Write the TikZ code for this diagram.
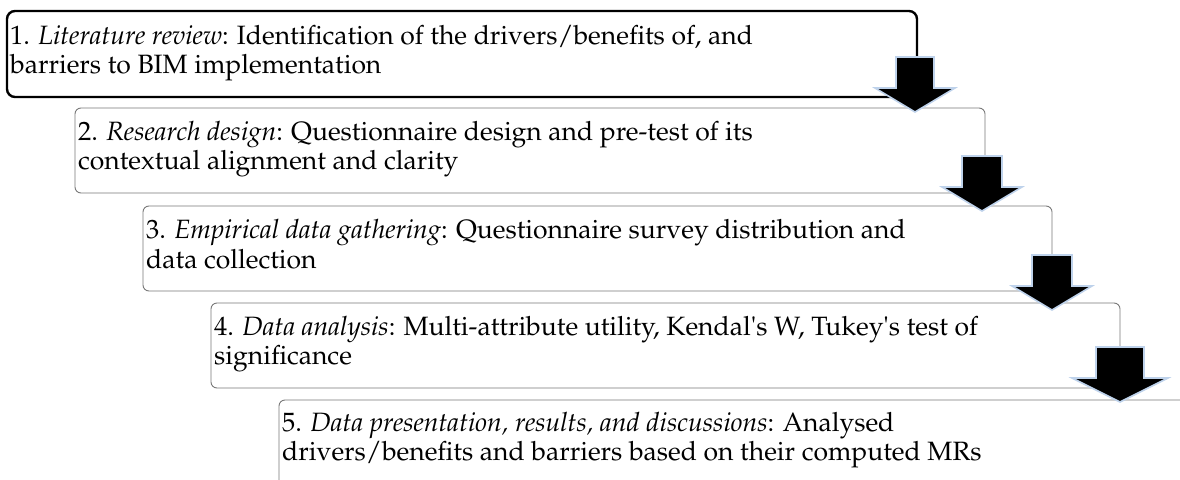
\documentclass[tikz,border=0pt]{standalone}
\usepackage[T1]{fontenc}
\usepackage{mathpazo}
\definecolor{boxgray}{RGB}{120,120,120}
\definecolor{arrowblue}{RGB}{190,210,235}
\tikzset{
  firstbox/.style={draw=black, line width=2.4pt, rounded corners=8pt},
  stepbox/.style={draw=boxgray, line width=0.9pt, rounded corners=6pt},
  steptext/.style={anchor=base west, inner sep=0pt, font=\fontsize{26.5}{29.5}\selectfont},
  blockarrow/.style={fill=black, draw=arrowblue, line width=1.6pt, line join=miter}
}
\newcommand{\myarrow}[5]{% name, center x, shaft top, shaft half width, head half width
  \path (#2,#3) coordinate (#1top);
  \draw[blockarrow] (#2-#4,#3) -- (#2+#4,#3) -- (#2+#4,#3+31) -- (#2+#5,#3+31)
     -- (#2,#3+55) coordinate (#1tip) -- (#2-#5,#3+31) -- (#2-#4,#3+31) -- cycle;
}
\begin{document}
\begin{tikzpicture}[x=1pt,y=-1pt]
\useasboundingbox (0,0) rectangle (1180,479);
\begin{scope}
\clip (0,0) rectangle (1180,479);
% boxes
\draw[firstbox] (7,11) rectangle (917,97);
\node[inner sep=0pt] (b1) at (462,54) {};
\draw[stepbox] (75,108) rectangle (985,193);
\node[inner sep=0pt] (b2) at (530,150) {};
\draw[stepbox] (143,206) rectangle (1052,291);
\node[inner sep=0pt] (b3) at (597,248) {};
\draw[stepbox] (211,303) rectangle (1120,388);
\node[inner sep=0pt] (b4) at (665,345) {};
\draw[stepbox] (279,400) rectangle (1200,500);
\node[inner sep=0pt] (b5) at (740,440) {};
% texts
\node[steptext] (t1a) at (10,44) {1. \textit{Literature review}: Identification of the drivers/benefits of, and};
\node[steptext] (t1b) at (10,73) {barriers to BIM implementation};
\node[steptext] (t2a) at (78,140) {2. \textit{Research design}: Questionnaire design and pre-test of its};
\node[steptext] (t2b) at (78,169) {contextual alignment and clarity};
\node[steptext] (t3a) at (146,238) {3. \textit{Empirical data gathering}: Questionnaire survey distribution and};
\node[steptext] (t3b) at (146,268) {data collection};
\node[steptext] (t4a) at (214,335) {4. \textit{Data analysis}: Multi-attribute utility, Kendal\textquotesingle s W, Tukey\textquotesingle s test of};
\node[steptext] (t4b) at (214,364) {significance};
\node[steptext] (t5a) at (282,431) {5. \textit{Data presentation, results, and discussions}: Analysed};
\node[steptext] (t5b) at (282,460) {drivers/benefits and barriers based on their computed MRs};
% arrows
\myarrow{a1}{915}{57}{19}{40}
\myarrow{a2}{982}{156}{20}{40}
\myarrow{a3}{1052}{255}{20}{40}
\myarrow{a4}{1120}{347}{24}{48}
\end{scope}
\end{tikzpicture}
\end{document}
